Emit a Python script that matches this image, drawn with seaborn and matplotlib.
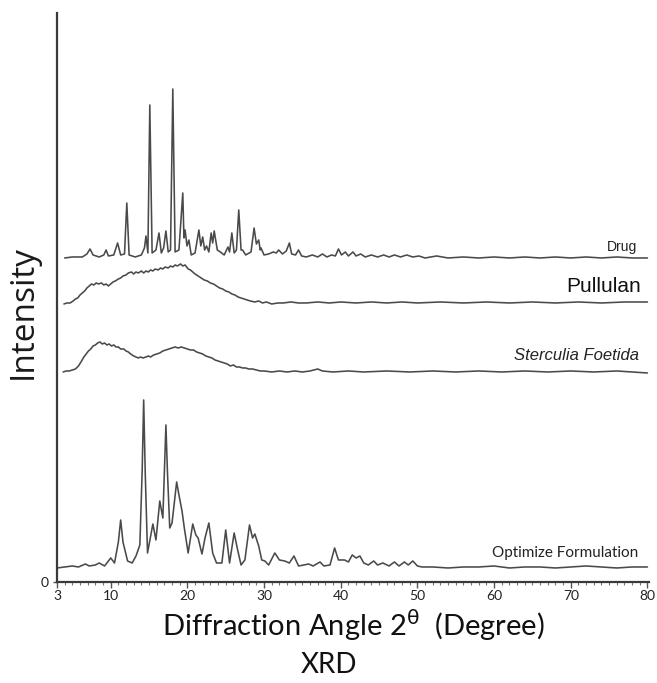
import matplotlib
matplotlib.use("Agg")
import matplotlib.pyplot as plt
import numpy as np
import pandas as pd
import seaborn as sns

# ---- XRD patterns (2θ in degrees, stacked intensity in arbitrary units) ----
drug_angle = [4.0, 5.0, 6.3, 6.9, 7.3, 7.7, 8.5, 9.1, 9.4, 9.7, 10.4, 10.9, 11.3, 11.8, 12.1,
              12.4, 13.2, 14.0, 14.4, 14.6, 14.85, 15.1, 15.4, 15.9, 16.3, 16.6, 16.9, 17.2,
              17.5, 17.8, 18.1, 18.4, 18.9, 19.4, 19.55, 19.7, 19.95, 20.2, 20.5, 21.0, 21.5,
              21.75, 22.0, 22.25, 22.5, 22.8, 23.1, 23.3, 23.5, 23.9, 24.3, 24.8, 25.3, 25.5,
              25.8, 26.1, 26.4, 26.7, 27.0, 27.2, 27.6, 28.3, 28.7, 29.0, 29.3, 29.5, 29.6,
              30.0, 30.6, 31.2, 31.6, 31.9, 32.4, 32.9, 33.3, 33.6, 34.1, 34.5, 34.9, 35.5,
              36.3, 37.0, 37.6, 38.2, 38.8, 39.3, 39.7, 40.1, 40.6, 41.0, 41.6, 42.0, 42.6,
              43.2, 44.0, 44.8, 45.6, 46.3, 47.0, 47.8, 48.6, 49.4, 50.2, 51.0, 52.5, 54.0,
              56.0, 58.0, 60.0, 62.0, 64.0, 66.0, 68.0, 70.0, 72.0, 74.0, 76.0, 78.0, 80.0]
drug_intensity = [324, 325, 325, 328, 333, 327, 325, 327, 332, 326, 327, 339, 327, 328, 379,
                  327, 325, 327, 334, 346, 329, 477, 329, 332, 349, 329, 334, 351,
                  330, 332, 493, 330, 332, 389, 344, 352, 336, 342, 327, 329, 352,
                  336, 345, 332, 336, 330, 349, 339, 351, 332, 330, 327, 335, 330,
                  349, 329, 332, 372, 332, 332, 327, 330, 354, 338, 342, 332, 334,
                  327, 328, 330, 329, 332, 328, 331, 339, 328, 327, 332, 326, 325,
                  327, 325, 328, 325, 327, 326, 333, 327, 330, 326, 330, 326, 328,
                  325, 327, 325, 327, 325, 327, 325, 327, 325, 326, 324, 326, 324,
                  325, 324, 325, 324, 325, 324, 325, 324, 325, 324, 325, 324, 324]

pullulan_angle = [3.9, 4.3, 4.7, 5.1, 5.4, 5.7, 6.0, 6.3, 6.6, 6.9, 7.2, 7.5, 7.8, 8.1, 8.4,
                  8.8, 9.1, 9.4, 9.7, 10.0, 10.3, 10.6, 11.0, 11.3, 11.6, 12.0, 12.3, 12.7,
                  13.0, 13.3, 13.6, 14.0, 14.3, 14.6, 14.9, 15.2, 15.5, 15.8, 16.2, 16.5,
                  16.8, 17.1, 17.5, 17.8, 18.1, 18.4, 18.7, 19.1, 19.4, 19.7, 20.1, 20.4,
                  20.7, 21.0, 21.4, 21.8, 22.2, 22.6, 23.0, 23.4, 23.8, 24.2, 24.6, 25.0,
                  25.4, 25.8, 26.2, 26.6, 27.0, 27.4, 27.8, 28.2, 28.8, 29.3, 29.8, 30.3,
                  31.0, 31.8, 32.5, 33.5, 34.5, 35.5, 37.0, 38.5, 40.0, 42.0, 44.0, 46.0,
                  48.0, 50.0, 53.0, 56.0, 59.0, 62.0, 65.0, 68.0, 71.0, 74.0, 77.0, 80.0]
pullulan_intensity = [278, 279, 279, 281, 283, 284, 287, 289, 291, 294, 296, 298, 297, 299, 298,
                      299, 297, 298, 296, 298, 300, 301, 303, 304, 306, 307, 309, 310,
                      308, 310, 309, 311, 309, 311, 310, 312, 311, 313, 312, 314,
                      313, 315, 314, 316, 315, 317, 316, 318, 316, 317, 313, 312,
                      310, 308, 306, 304, 302, 301, 299, 298, 296, 294, 293, 291,
                      290, 288, 287, 285, 284, 283, 282, 281, 280, 281, 279, 280,
                      278, 279, 279, 280, 279, 279, 280, 279, 280, 279, 280, 279,
                      280, 279, 280, 279, 280, 279, 280, 279, 280, 279, 280, 280]

sterculia_angle = [3.8, 4.2, 4.6, 5.0, 5.4, 5.8, 6.2, 6.5, 6.8, 7.1, 7.4, 7.7, 8.0, 8.3, 8.6,
                   8.9, 9.2, 9.5, 9.8, 10.1, 10.4, 10.7, 11.0, 11.3, 11.7, 12.0, 12.3, 12.6,
                   13.0, 13.3, 13.6, 13.9, 14.2, 14.6, 14.9, 15.2, 15.6, 16.0, 16.4, 16.8,
                   17.2, 17.6, 18.0, 18.4, 18.8, 19.2, 19.6, 20.0, 20.4, 20.8, 21.2, 21.6,
                   22.0, 22.4, 22.8, 23.2, 23.6, 24.0, 24.4, 24.8, 25.2, 25.6, 26.0, 26.4,
                   26.8, 27.2, 27.6, 28.0, 28.5, 29.0, 29.5, 30.0, 31.0, 32.0, 33.0, 34.0,
                   35.0, 36.0, 37.0, 37.6, 39.0, 41.0, 43.0, 46.0, 49.0, 52.0, 55.0, 58.0,
                   61.0, 64.0, 67.0, 70.0, 73.0, 76.0, 80.0]
sterculia_intensity = [210, 211, 211, 212, 213, 216, 221, 225, 228, 231, 233, 236, 237, 239, 240,
                       238, 239, 237, 238, 236, 237, 235, 235, 233, 233, 231, 230, 228,
                       226, 225, 224, 225, 224, 225, 226, 225, 227, 228, 229, 231,
                       232, 233, 234, 235, 234, 235, 234, 233, 232, 232, 230, 229,
                       228, 226, 225, 224, 222, 221, 220, 219, 218, 216, 217, 215,
                       215, 214, 214, 213, 213, 212, 211, 211, 210, 211, 210, 211,
                       210, 211, 213, 211, 210, 211, 210, 211, 210, 211, 210, 211,
                       210, 211, 210, 211, 210, 211, 209]

formulation_angle = [3.0, 4.0, 5.0, 5.8, 6.7, 7.2, 8.0, 8.5, 9.2, 10.0, 10.5, 11.0, 11.3, 11.6,
                     12.2, 12.8, 13.3, 13.8, 14.1, 14.3, 14.5, 14.8, 15.5, 15.9, 16.4, 16.8,
                     17.0, 17.2, 17.4, 17.7, 18.0, 18.6, 18.9, 19.3, 19.6, 20.1, 20.7, 21.1,
                     21.4, 21.9, 22.3, 22.8, 23.3, 23.8, 24.5, 25.0, 25.5, 26.1, 26.5, 27.0,
                     27.5, 28.1, 28.5, 28.8, 29.3, 29.7, 30.1, 30.6, 31.4, 32.0, 32.7, 33.3,
                     33.9, 34.5, 35.2, 35.8, 36.4, 37.3, 37.8, 38.6, 39.2, 39.7, 40.1, 40.5,
                     41.0, 41.5, 42.0, 42.5, 43.0, 43.6, 44.3, 44.8, 45.5, 46.3, 47.0, 47.6,
                     48.3, 48.8, 49.4, 50.0, 50.6, 52.0, 54.0, 56.0, 58.0, 60.0, 62.0, 64.0,
                     66.0, 68.0, 70.0, 72.0, 74.0, 76.0, 78.0, 80.0]
formulation_intensity = [14, 15, 16, 15, 18, 16, 17, 19, 16, 24, 19, 40, 62, 40,
                         21, 19, 26, 37, 110, 182, 110, 29, 58, 42, 81, 64,
                         110, 157, 110, 54, 59, 100, 87, 71, 54, 29, 58, 47,
                         44, 28, 44, 59, 29, 19, 19, 52, 19, 49, 34, 17,
                         22, 57, 44, 48, 36, 22, 21, 17, 29, 22, 21, 19,
                         26, 16, 17, 18, 16, 20, 16, 17, 34, 22, 22, 22,
                         20, 27, 24, 26, 19, 17, 21, 17, 19, 16, 20, 16,
                         20, 17, 21, 16, 15, 15, 14, 15, 15, 16, 14, 15,
                         15, 14, 15, 16, 15, 14, 15, 15]

trace_names = ["Drug", "Pullulan", "Sterculia Foetida", "Optimize Formulation"]
x_ticks = [3, 10, 20, 30, 40, 50, 60, 70, 80]

frames = []
for name, xs, ys in zip(trace_names,
                        [drug_angle, pullulan_angle, sterculia_angle, formulation_angle],
                        [drug_intensity, pullulan_intensity, sterculia_intensity, formulation_intensity]):
    frames.append(pd.DataFrame({"angle": xs, "intensity": ys, "sample": name}))
data = pd.concat(frames, ignore_index=True)

sns.set_theme(style="ticks")
plt.rcParams["font.family"] = ["Lato", "DejaVu Sans"]

fig = plt.figure(figsize=(6.57, 6.83), dpi=100)
ax = fig.add_axes([0.0868, 0.1479, 0.901, 0.8331])

sns.lineplot(data=data, x="angle", y="intensity", units="sample", estimator=None,
             sort=False, color="#4a4a4a", linewidth=1.15, ax=ax, legend=False)

ax.set_xlim(3, 80.2)
ax.set_ylim(0, 569)
ax.set_xticks(x_ticks)
ax.set_xticks(np.arange(3, 81, 1), minor=True)
ax.set_yticks([0])
ax.set_yticklabels(["0"])
ax.tick_params(axis="x", which="major", length=4, width=1, color="#555555",
               labelsize=10, pad=2, labelcolor="#222222")
ax.tick_params(axis="x", which="minor", length=2.5, width=0.8, color="#777777")
ax.tick_params(axis="y", length=3, width=1, color="#555555", labelsize=10,
               labelcolor="#222222", pad=3)

sns.despine(ax=ax, top=True, right=True)
for side in ["left", "bottom"]:
    ax.spines[side].set_color("#3a3a3a")
    ax.spines[side].set_linewidth(1.6)

ax.set_xlabel(r"Diffraction Angle 2$^{\mathrm{\theta}}$  (Degree)", fontsize=21,
              color="#111111", labelpad=4)
ax.set_ylabel("Intensity", fontsize=24, color="#1a1a1a", family=["Open Sans", "DejaVu Sans"])
ax.yaxis.set_label_coords(-0.03, 0.474)

# sample labels at the right end of each trace
ax.text(78.7, 335, "Drug", ha="right", va="center", fontsize=10,
        family=["Liberation Sans"], color="#222222")
ax.text(79.2, 295, "Pullulan", ha="right", va="center", fontsize=15,
        family=["Liberation Sans"], color="#111111")
ax.text(78.9, 226, "Sterculia Foetida", ha="right", va="center", fontsize=12,
        family=["Liberation Sans"], style="italic", color="#222222")
ax.text(78.8, 29, "Optimize Formulation", ha="right", va="center", fontsize=11,
        color="#222222")

fig.text(0.5, 1 - 665 / 683, "XRD", ha="center", va="center", fontsize=20, color="#111111")

fig.savefig("out.png", dpi=100, facecolor="white")
